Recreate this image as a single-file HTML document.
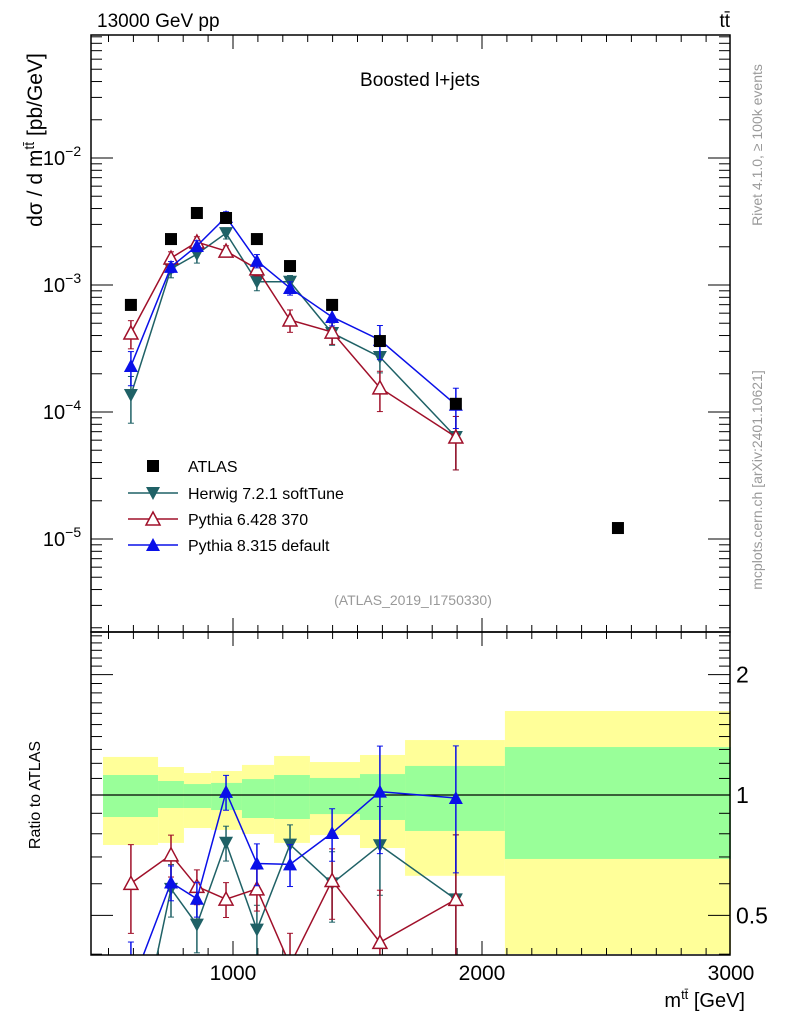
<!DOCTYPE html>
<html><head><meta charset="utf-8"><style>
html,body{margin:0;background:#fff;width:786px;height:1024px;overflow:hidden}
svg{font-family:"Liberation Sans","DejaVu Sans",sans-serif;display:block}
</style></head><body>
<svg id="c" width="786" height="1024" viewBox="0 0 786 1024" xmlns="http://www.w3.org/2000/svg">
<g id="bands"></g><g id="grid"></g><g id="series"></g>
<rect x="91" y="35" width="639" height="597" fill="none" stroke="#000" stroke-width="1.5"/>
<rect x="91" y="632" width="639" height="323" fill="none" stroke="#000" stroke-width="1.5"/>
<text x="97" y="27" font-size="19">13000 GeV pp</text>
<text x="730" y="27" font-size="19" text-anchor="end">tt̄</text>
<text x="420" y="86" font-size="19" text-anchor="middle">Boosted l+jets</text>
<text x="413" y="605" font-size="14" fill="#999" text-anchor="middle">(ATLAS_2019_I1750330)</text>
<text transform="translate(42,140) rotate(-90)" font-size="21" text-anchor="middle">dσ / d m<tspan dy="-8" font-size="14">tt̄</tspan><tspan dy="8"> [pb/GeV]</tspan></text>
<text transform="translate(40,795) rotate(-90)" font-size="16" text-anchor="middle">Ratio to ATLAS</text>
<text x="745" y="1007" font-size="20" text-anchor="end">m<tspan dy="-8" font-size="13">tt̄</tspan><tspan dy="8"> [GeV]</tspan></text>
<text transform="translate(762,145) rotate(-90)" font-size="14" fill="#999" text-anchor="middle">Rivet 4.1.0, ≥ 100k events</text>
<text transform="translate(762,480) rotate(-90)" font-size="14" fill="#999" text-anchor="middle">mcplots.cern.ch [arXiv:2401.10621]</text>
<g id="legend"></g>
</svg>
<script>
const edges=[478,699,803,912,1036,1165,1309,1510,1691,2092,3000];
const centers=[590,751,855,972,1096,1229,1398,1590,1895,2546];
const atlas=[6.97e-4,2.30e-3,3.69e-3,3.37e-3,2.30e-3,1.41e-3,6.97e-4,3.62e-4,1.16e-4,1.22e-5];
const yelHi=[1.245,1.175,1.135,1.148,1.189,1.252,1.209,1.259,1.372,1.622];
const yelLo=[0.75,0.759,0.827,0.818,0.799,0.759,0.794,0.737,0.628,0.39];
const grnHi=[1.122,1.084,1.065,1.072,1.096,1.122,1.103,1.128,1.182,1.318];
const grnLo=[0.881,0.928,0.928,0.917,0.876,0.871,0.896,0.866,0.813,0.692];
const herwig=[1.36e-4,1.34e-3,1.75e-3,2.56e-3,1.06e-3,1.06e-3,4.19e-4,2.71e-4,6.36e-5];
const herwigErr=[0.4,0.15,0.15,0.1,0.15,0.12,0.2,0.25,0.45];
const py6=[4.19e-4,1.63e-3,2.18e-3,1.85e-3,1.34e-3,5.30e-4,4.26e-4,1.55e-4,6.36e-5];
const py6Err=[0.25,0.12,0.1,0.1,0.12,0.2,0.2,0.35,0.45];
const py8=[2.30e-4,1.39e-3,2.03e-3,3.43e-3,1.55e-3,9.46e-4,5.60e-4,3.69e-4,1.14e-4];
const py8Err=[0.3,0.1,0.1,0.1,0.12,0.12,0.15,0.3,0.35];
const xTicks=[1000,2000,3000];
const NS="http://www.w3.org/2000/svg";
const X=v=>233+(v-1000)*0.249;
const Y=v=>158-(Math.log10(v)+2)*127;
const R=v=>795-Math.log10(v)*400;
function mk(p,t,a){const e=document.createElementNS(NS,t);for(const k in a)e.setAttribute(k,a[k]);p.appendChild(e);return e;}
const bands=document.getElementById('bands'),grid=document.getElementById('grid'),ser=document.getElementById('series'),leg=document.getElementById('legend');
const clampR=v=>Math.max(633,Math.min(954,R(v)));
for(let i=0;i<centers.length;i++){
 const x0=X(edges[i]),x1=X(edges[i+1]);
 const y=mk(bands,'rect',{x:x0,y:clampR(yelHi[i]),width:x1-x0,height:clampR(yelLo[i])-clampR(yelHi[i]),fill:'#ffff99'});
 
 
 const g=mk(bands,'rect',{x:x0,y:clampR(grnHi[i]),width:x1-x0,height:clampR(grnLo[i])-clampR(grnHi[i]),fill:'#99ff99'});
 
 
}
mk(grid,'line',{x1:91,x2:730,y1:R(1),y2:R(1),stroke:'#000','stroke-width':1.2});
for(let v=500;v<=3000;v+=100){const x=X(v);if(x<91||x>730)continue;const big=v%1000===0;const L=big?14:7;
 [[632,-1],[955,-1],[35,1],[632,1]].forEach(([yy,d])=>mk(grid,'line',{x1:x,x2:x,y1:yy,y2:yy+d*L,stroke:'#000'}));}
xTicks.forEach(v=>{const t=mk(grid,'text',{x:X(v),y:980,'font-size':21,'text-anchor':'middle'});t.textContent=v;
 
 });
for(let d=-6;d<=-1;d++)for(let m=1;m<10;m++){const v=m*Math.pow(10,d);const y=Y(v);if(y<35||y>632)continue;const L=m===1?22:11;
 mk(grid,'line',{x1:91,x2:91+L,y1:y,y2:y,stroke:'#000'});mk(grid,'line',{x1:730,x2:730-L,y1:y,y2:y,stroke:'#000'});
 if(m===1){const t=mk(grid,'text',{x:62,y:y+7,'font-size':20,'text-anchor':'middle'});t.innerHTML='10<tspan dy="-9" font-size="14">'+'−'+(-d)+'</tspan>';
 
 }}
[0.4,0.5,0.6,0.7,0.8,0.9,1,1.1,1.2,1.3,1.4,1.5,1.6,1.7,1.8,1.9,2,2.1,2.2,2.3,2.4,2.5].forEach(v=>{const y=R(v);const big=[0.5,1,2].includes(v);const L=big?22:11;
 mk(grid,'line',{x1:91,x2:91+L,y1:y,y2:y,stroke:'#000'});mk(grid,'line',{x1:730,x2:730-L,y1:y,y2:y,stroke:'#000'});
 if(big){const t=mk(grid,'text',{x:736,y:y+8,'font-size':23});t.textContent=v;
 
 }});
function marker(p,type,x,y,c){
 if(type==='sq')return mk(p,'rect',{x:x-6,y:y-6,width:12,height:12,fill:'#000'});
 if(type==='down')return mk(p,'path',{d:`M${x-7},${y-6}L${x+7},${y-6}L${x},${y+7}Z`,fill:c});
 if(type==='up')return mk(p,'path',{d:`M${x-7},${y+6}L${x+7},${y+6}L${x},${y-7}Z`,fill:c});
 return mk(p,'path',{d:`M${x-7},${y+6}L${x+7},${y+6}L${x},${y-7}Z`,fill:'#fff',stroke:c,'stroke-width':1.5});
}
const clip=mk(document.getElementById('c'),'clipPath',{id:'rc'});mk(clip,'rect',{x:91,y:632,width:639,height:323});
const rg=mk(ser,'g',{'clip-path':'url(#rc)'});
function series(vals,errs,col,type,name){
 const g=mk(ser,'g',{});
 let pts=[],rpts=[];
 vals.forEach((v,i)=>{const x=X(centers[i]);pts.push(x+','+Y(v));const r=v/atlas[i];rpts.push(x+','+R(r));
  const lo=v*(1-errs[i]),hi=v*(1+errs[i]);
  mk(g,'line',{x1:x,x2:x,y1:Y(hi),y2:Y(lo),stroke:col,'stroke-width':1.5});
  mk(rg,'line',{x1:x,x2:x,y1:R(hi/atlas[i]),y2:R(lo/atlas[i]),stroke:col,'stroke-width':1.5});
  [Y(hi),Y(lo)].forEach(yy=>mk(g,'line',{x1:x-3,x2:x+3,y1:yy,y2:yy,stroke:col}));
  [R(hi/atlas[i]),R(lo/atlas[i])].forEach(yy=>mk(rg,'line',{x1:x-3,x2:x+3,y1:yy,y2:yy,stroke:col}));});
 mk(g,'polyline',{points:pts.join(' '),fill:'none',stroke:col,'stroke-width':1.5});
 mk(rg,'polyline',{points:rpts.join(' '),fill:'none',stroke:col,'stroke-width':1.5});
 vals.forEach((v,i)=>{const x=X(centers[i]);const m=marker(g,type,x,Y(v),col);
  marker(rg,type,x,R(v/atlas[i]),col);});
}
series(herwig,herwigErr,'#1f6166','down','herwig');
series(py6,py6Err,'#a0102a','open','pythia6');
series(py8,py8Err,'#0a10e8','up','pythia8');
atlas.forEach((v,i)=>{const m=marker(ser,'sq',X(centers[i]),Y(v));});
[['sq','#000','ATLAS',466],['down','#1f6166','Herwig 7.2.1 softTune',493],['open','#a0102a','Pythia 6.428 370',519],['up','#0a10e8','Pythia 8.315 default',545]].forEach(([t,c,l,y])=>{
 const g=mk(leg,'g',{});
 if(t!=='sq')mk(g,'line',{x1:128,x2:178,y1:y,y2:y,stroke:c,'stroke-width':1.5});
 marker(g,t,153,y,c);const tx=mk(g,'text',{x:188,y:y+6,'font-size':16});tx.textContent=l;});
</script>
</body></html>
